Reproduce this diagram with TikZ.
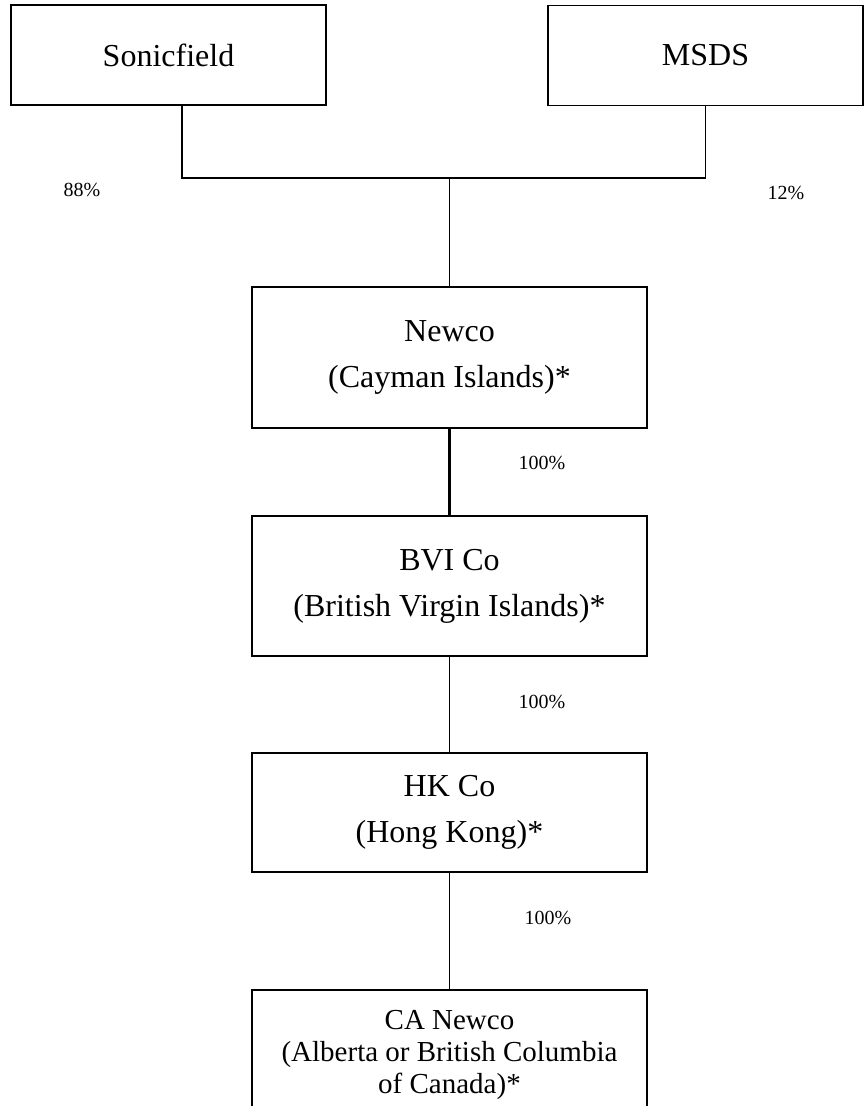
\documentclass[tikz,border=0pt]{standalone}
\usepackage{fontspec}
\setmainfont{Liberation Serif}
\usetikzlibrary{shapes, positioning}

\begin{document}
\begin{tikzpicture}[x=1pt, y=-1pt,
    owner/.style={rectangle, draw=black, line width=1.7pt, fill=none,
        minimum width=315pt, minimum height=100pt, text centered, text=black,
        font=\fontsize{32}{46}\selectfont},
    company/.style={rectangle, draw=black, line width=1.7pt, fill=none,
        minimum width=395pt, text centered, align=center, text=black,
        font=\fontsize{32}{46}\selectfont},
    share/.style={rectangle, draw=none, fill=none, text=black,
        font=\fontsize{20}{22}\selectfont},
    link/.style={draw=black, line width=1.8pt}
]
\useasboundingbox (0,0) rectangle (866,1106);
\clip (0,0) rectangle (866,1106);

\node (Par01) [owner] at (168.5,55) {Sonicfield};
\node (Par02) [owner] at (705.5,55.5) {MSDS};
\coordinate (J01) at (449.5,178);

\node (Co01) [company, minimum height=141pt] at (449.5,357.5) {Newco\\(Cayman Islands)*};
\node (Co02) [company, minimum height=140pt] at (449.5,586) {BVI Co\\(British Virgin Islands)*};
\node (Co03) [company, minimum height=119pt] at (449.5,812.5) {HK Co\\(Hong Kong)*};
\node (Co04) [company, minimum height=130pt, font=\fontsize{29}{32}\selectfont]
    at (449.5,1055) {CA Newco\\(Alberta or British Columbia\\of Canada)*};

\node (P01) [share] at (82,190) {88\%};
\node (P02) [share] at (786,193) {12\%};
\node (P03) [share] at (542,463) {100\%};
\node (P04) [share] at (542,702) {100\%};
\node (P05) [share] at (548,918) {100\%};

\draw [link] ([xshift=13.5pt]Par01.south) |- (J01);
\draw [link] (Par02.south) |- (J01);
\draw [link] (J01) -- (Co01.north);
\draw [link, line width=2.4pt] (Co01.south) -- (Co02.north);
\draw [link] (Co02.south) -- (Co03.north);
\draw [link] (Co03.south) -- (Co04.north);
\end{tikzpicture}
\end{document}
